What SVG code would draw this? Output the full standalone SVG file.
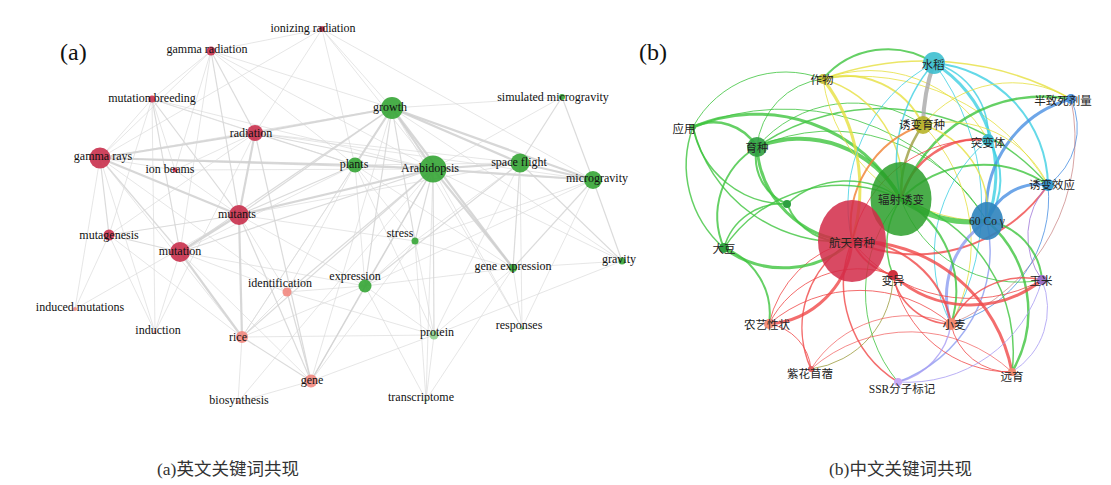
<svg xmlns="http://www.w3.org/2000/svg" width="1111" height="485" viewBox="0 0 1111 485">
<style>
.la{font-family:"Liberation Serif",serif;font-size:12px;fill:#111;text-anchor:middle}
.lb{font-family:"Liberation Serif","Noto Sans CJK SC",serif;font-size:11.5px;fill:#222;text-anchor:middle}
.pn{font-family:"Liberation Serif",serif;font-size:24px;fill:#111}
.cap{font-family:"Liberation Serif","Noto Sans CJK SC",serif;font-size:17.5px;fill:#333}
.t{stroke:#cdcdcd;stroke-width:2.2;stroke-opacity:.8}
.m{stroke:#d2d2d2;stroke-width:1.2;stroke-opacity:.8}
.n{stroke:#d8d8d8;stroke-width:.8;stroke-opacity:.8}
#edges-b path{fill:none;stroke-opacity:.8}
.G{stroke:#3ec43e}.R{stroke:#f04848}.Y{stroke:#e6e040}.T{stroke:#3fd0e2}.B{stroke:#4a90e2}
.L{stroke:#a99cf2}.P{stroke:#a078d8}.Gr{stroke:#a8a8a8}.O{stroke:#9c9c40}.Or{stroke:#f08030}.Br{stroke:#c07070}.LB{stroke:#8c9cf0}
.nr{fill:#c9304c;fill-opacity:.9}.ns{fill:#f28880;fill-opacity:.9}.ng{fill:#35a535;fill-opacity:.9}.nl{fill:#8fd18f;fill-opacity:.9}
</style>
<g id="connectors">
<g id="edges-a">
<line class="t" x1="392" y1="108" x2="433" y2="169"/>
<line class="t" x1="392" y1="108" x2="520" y2="163"/>
<line class="t" x1="392" y1="108" x2="593" y2="180"/>
<line class="t" x1="433" y1="169" x2="520" y2="163"/>
<line class="t" x1="433" y1="169" x2="593" y2="180"/>
<line class="t" x1="520" y1="163" x2="593" y2="180"/>
<line class="t" x1="355" y1="165" x2="433" y2="169"/>
<line class="t" x1="392" y1="108" x2="355" y2="165"/>
<line class="t" x1="100" y1="158" x2="239" y2="215"/>
<line class="t" x1="100" y1="158" x2="255" y2="133"/>
<line class="t" x1="255" y1="133" x2="392" y2="108"/>
<line class="t" x1="239" y1="215" x2="433" y2="169"/>
<line class="t" x1="100" y1="158" x2="355" y2="165"/>
<line class="t" x1="239" y1="215" x2="180" y2="252"/>
<line class="t" x1="392" y1="108" x2="513" y2="268"/>
<line class="t" x1="433" y1="169" x2="513" y2="268"/>
<line class="t" x1="180" y1="252" x2="242" y2="337"/>
<line class="t" x1="239" y1="215" x2="242" y2="337"/>
<line class="t" x1="255" y1="133" x2="239" y2="215"/>
<line class="m" x1="100" y1="158" x2="180" y2="252"/>
<line class="m" x1="100" y1="158" x2="109" y2="235"/>
<line class="m" x1="152" y1="99" x2="239" y2="215"/>
<line class="m" x1="152" y1="99" x2="180" y2="252"/>
<line class="m" x1="211" y1="51" x2="255" y2="133"/>
<line class="m" x1="211" y1="51" x2="239" y2="215"/>
<line class="m" x1="255" y1="133" x2="433" y2="169"/>
<line class="m" x1="255" y1="133" x2="355" y2="165"/>
<line class="m" x1="239" y1="215" x2="355" y2="165"/>
<line class="m" x1="180" y1="252" x2="433" y2="169"/>
<line class="m" x1="180" y1="252" x2="392" y2="108"/>
<line class="m" x1="109" y1="235" x2="239" y2="215"/>
<line class="m" x1="109" y1="235" x2="180" y2="252"/>
<line class="m" x1="365" y1="286" x2="433" y2="169"/>
<line class="m" x1="365" y1="286" x2="392" y2="108"/>
<line class="m" x1="365" y1="286" x2="520" y2="163"/>
<line class="m" x1="365" y1="286" x2="311" y2="381"/>
<line class="m" x1="311" y1="381" x2="433" y2="169"/>
<line class="m" x1="242" y1="337" x2="433" y2="169"/>
<line class="m" x1="242" y1="337" x2="311" y2="381"/>
<line class="m" x1="415" y1="241" x2="433" y2="169"/>
<line class="m" x1="415" y1="241" x2="392" y2="108"/>
<line class="m" x1="513" y1="268" x2="520" y2="163"/>
<line class="m" x1="513" y1="268" x2="593" y2="180"/>
<line class="m" x1="622" y1="261" x2="593" y2="180"/>
<line class="m" x1="622" y1="261" x2="520" y2="163"/>
<line class="m" x1="562" y1="97" x2="593" y2="180"/>
<line class="m" x1="562" y1="97" x2="520" y2="163"/>
<line class="m" x1="434" y1="335" x2="433" y2="169"/>
<line class="m" x1="311" y1="381" x2="239" y2="215"/>
<line class="m" x1="287" y1="292" x2="433" y2="169"/>
<line class="m" x1="287" y1="292" x2="311" y2="381"/>
<line class="m" x1="311" y1="381" x2="255" y2="133"/>
<line class="m" x1="239" y1="215" x2="392" y2="108"/>
<line class="m" x1="100" y1="158" x2="433" y2="169"/>
<line class="n" x1="322" y1="29" x2="211" y2="51"/>
<line class="n" x1="322" y1="29" x2="392" y2="108"/>
<line class="n" x1="322" y1="29" x2="355" y2="165"/>
<line class="n" x1="322" y1="29" x2="255" y2="133"/>
<line class="n" x1="322" y1="29" x2="593" y2="180"/>
<line class="n" x1="322" y1="29" x2="433" y2="169"/>
<line class="n" x1="322" y1="29" x2="100" y2="158"/>
<line class="n" x1="211" y1="51" x2="152" y2="99"/>
<line class="n" x1="211" y1="51" x2="100" y2="158"/>
<line class="n" x1="211" y1="51" x2="392" y2="108"/>
<line class="n" x1="211" y1="51" x2="355" y2="165"/>
<line class="n" x1="211" y1="51" x2="433" y2="169"/>
<line class="n" x1="211" y1="51" x2="180" y2="252"/>
<line class="n" x1="211" y1="51" x2="175" y2="170"/>
<line class="n" x1="152" y1="99" x2="100" y2="158"/>
<line class="n" x1="152" y1="99" x2="175" y2="170"/>
<line class="n" x1="152" y1="99" x2="255" y2="133"/>
<line class="n" x1="152" y1="99" x2="109" y2="235"/>
<line class="n" x1="152" y1="99" x2="155" y2="332"/>
<line class="n" x1="152" y1="99" x2="355" y2="165"/>
<line class="n" x1="152" y1="99" x2="433" y2="169"/>
<line class="n" x1="100" y1="158" x2="175" y2="170"/>
<line class="n" x1="100" y1="158" x2="75" y2="309"/>
<line class="n" x1="100" y1="158" x2="155" y2="332"/>
<line class="n" x1="100" y1="158" x2="242" y2="337"/>
<line class="n" x1="100" y1="158" x2="392" y2="108"/>
<line class="n" x1="100" y1="158" x2="287" y2="292"/>
<line class="n" x1="175" y1="170" x2="239" y2="215"/>
<line class="n" x1="175" y1="170" x2="255" y2="133"/>
<line class="n" x1="175" y1="170" x2="433" y2="169"/>
<line class="n" x1="109" y1="235" x2="75" y2="309"/>
<line class="n" x1="109" y1="235" x2="155" y2="332"/>
<line class="n" x1="109" y1="235" x2="242" y2="337"/>
<line class="n" x1="109" y1="235" x2="255" y2="133"/>
<line class="n" x1="180" y1="252" x2="155" y2="332"/>
<line class="n" x1="180" y1="252" x2="287" y2="292"/>
<line class="n" x1="180" y1="252" x2="311" y2="381"/>
<line class="n" x1="180" y1="252" x2="365" y2="286"/>
<line class="n" x1="180" y1="252" x2="355" y2="165"/>
<line class="n" x1="239" y1="215" x2="287" y2="292"/>
<line class="n" x1="239" y1="215" x2="365" y2="286"/>
<line class="n" x1="239" y1="215" x2="520" y2="163"/>
<line class="n" x1="239" y1="215" x2="415" y2="241"/>
<line class="n" x1="242" y1="337" x2="238" y2="402"/>
<line class="n" x1="242" y1="337" x2="287" y2="292"/>
<line class="n" x1="242" y1="337" x2="434" y2="335"/>
<line class="n" x1="242" y1="337" x2="392" y2="108"/>
<line class="n" x1="242" y1="337" x2="365" y2="286"/>
<line class="n" x1="242" y1="337" x2="355" y2="165"/>
<line class="n" x1="311" y1="381" x2="238" y2="402"/>
<line class="n" x1="311" y1="381" x2="434" y2="335"/>
<line class="n" x1="311" y1="381" x2="415" y2="241"/>
<line class="n" x1="311" y1="381" x2="392" y2="108"/>
<line class="n" x1="287" y1="292" x2="365" y2="286"/>
<line class="n" x1="287" y1="292" x2="355" y2="165"/>
<line class="n" x1="287" y1="292" x2="434" y2="335"/>
<line class="n" x1="365" y1="286" x2="355" y2="165"/>
<line class="n" x1="365" y1="286" x2="434" y2="335"/>
<line class="n" x1="365" y1="286" x2="415" y2="241"/>
<line class="n" x1="365" y1="286" x2="593" y2="180"/>
<line class="n" x1="365" y1="286" x2="513" y2="268"/>
<line class="n" x1="365" y1="286" x2="426" y2="400"/>
<line class="n" x1="415" y1="241" x2="355" y2="165"/>
<line class="n" x1="415" y1="241" x2="520" y2="163"/>
<line class="n" x1="415" y1="241" x2="593" y2="180"/>
<line class="n" x1="415" y1="241" x2="434" y2="335"/>
<line class="n" x1="415" y1="241" x2="513" y2="268"/>
<line class="n" x1="434" y1="335" x2="355" y2="165"/>
<line class="n" x1="434" y1="335" x2="513" y2="268"/>
<line class="n" x1="434" y1="335" x2="426" y2="400"/>
<line class="n" x1="434" y1="335" x2="622" y2="261"/>
<line class="n" x1="434" y1="335" x2="520" y2="163"/>
<line class="n" x1="426" y1="400" x2="433" y2="169"/>
<line class="n" x1="426" y1="400" x2="513" y2="268"/>
<line class="n" x1="426" y1="400" x2="415" y2="241"/>
<line class="n" x1="522" y1="328" x2="433" y2="169"/>
<line class="n" x1="522" y1="328" x2="520" y2="163"/>
<line class="n" x1="522" y1="328" x2="392" y2="108"/>
<line class="n" x1="522" y1="328" x2="513" y2="268"/>
<line class="n" x1="522" y1="328" x2="593" y2="180"/>
<line class="n" x1="513" y1="268" x2="622" y2="261"/>
<line class="n" x1="622" y1="261" x2="433" y2="169"/>
<line class="n" x1="622" y1="261" x2="392" y2="108"/>
<line class="n" x1="562" y1="97" x2="392" y2="108"/>
<line class="n" x1="562" y1="97" x2="433" y2="169"/>
<line class="n" x1="513" y1="268" x2="355" y2="165"/>
<line class="n" x1="238" y1="402" x2="433" y2="169"/>
<line class="n" x1="155" y1="332" x2="255" y2="133"/>
<line class="n" x1="75" y1="309" x2="239" y2="215"/>
<line class="n" x1="355" y1="165" x2="520" y2="163"/>
<line class="n" x1="355" y1="165" x2="593" y2="180"/>
<line class="n" x1="255" y1="133" x2="520" y2="163"/>
<line class="n" x1="255" y1="133" x2="593" y2="180"/>
</g>
<g id="edges-b">
<path class="G" stroke-width="1" d="M693,127 A105,105 0 0 1 823,79"/>
<path class="G" stroke-width="3" d="M693,127 A165,165 0 0 1 901,199"/>
<path class="G" stroke-width="2.5" d="M693,127 A50,50 0 0 1 757,147"/>
<path class="G" stroke-width="1.5" d="M693,127 A110,110 0 0 0 724,248"/>
<path class="G" stroke-width="1.5" d="M693,127 A150,150 0 0 0 852,241"/>
<path class="G" stroke-width="1" d="M693,127 A240,240 0 0 1 987,221"/>
<path class="G" stroke-width="1.5" d="M693,127 A95,95 0 0 0 787,204"/>
<path class="G" stroke-width="4" d="M757,147 A115,115 0 0 1 901,199"/>
<path class="G" stroke-width="3" d="M757,147 A100,100 0 0 0 852,241"/>
<path class="G" stroke-width="2" d="M757,147 A80,80 0 0 0 724,248"/>
<path class="G" stroke-width="2" d="M757,147 A50,50 0 0 0 787,204"/>
<path class="G" stroke-width="1" d="M757,147 A75,75 0 0 1 823,79"/>
<path class="G" stroke-width="1.5" d="M757,147 A220,220 0 0 1 1048,185"/>
<path class="G" stroke-width="1" d="M757,147 A180,180 0 0 1 987,221"/>
<path class="G" stroke-width="1" d="M757,147 A125,125 0 0 1 923,125"/>
<path class="G" stroke-width="2" d="M823,79 A85,85 0 0 1 934,63"/>
<path class="Y" stroke-width="1.5" d="M823,79 A300,300 0 0 1 1071,99"/>
<path class="Y" stroke-width="3" d="M823,79 A180,180 0 0 1 852,241"/>
<path class="Y" stroke-width="1.5" d="M823,79 A110,110 0 0 1 901,199"/>
<path class="Y" stroke-width="2" d="M823,79 A85,85 0 0 1 923,125"/>
<path class="Y" stroke-width="1" d="M823,79 A135,135 0 0 1 988,140"/>
<path class="Y" stroke-width="1" d="M823,79 A220,220 0 0 1 1048,185"/>
<path class="Y" stroke-width="1" d="M823,79 A165,165 0 0 0 987,221"/>
<path class="T" stroke-width="2" d="M934,63 A125,125 0 0 1 1048,185"/>
<path class="T" stroke-width="3" d="M934,63 A130,130 0 0 1 987,221"/>
<path class="Gr" stroke-width="4" d="M934,63 A200,200 0 0 0 923,125"/>
<path class="T" stroke-width="1.5" d="M934,63 A75,75 0 0 1 988,140"/>
<path class="T" stroke-width="1.5" d="M934,63 A150,150 0 0 0 901,199"/>
<path class="T" stroke-width="1" d="M934,63 A160,160 0 0 0 852,241"/>
<path class="T" stroke-width="1" d="M934,63 A240,240 0 0 1 951,324"/>
<path class="B" stroke-width="3" d="M1071,99 A115,115 0 0 0 987,221"/>
<path class="G" stroke-width="2.5" d="M1071,99 A150,150 0 0 0 901,199"/>
<path class="B" stroke-width="1" d="M1071,99 A70,70 0 0 1 1048,185"/>
<path class="Br" stroke-width="0.8" d="M1071,99 A200,200 0 0 1 951,324"/>
<path class="O" stroke-width="2.5" d="M923,125 A120,120 0 0 0 901,199"/>
<path class="Or" stroke-width="2" d="M923,125 A105,105 0 0 0 852,241"/>
<path class="Y" stroke-width="1.5" d="M923,125 A90,90 0 0 1 987,221"/>
<path class="Y" stroke-width="1" d="M923,125 A170,170 0 0 1 951,324"/>
<path class="Y" stroke-width="1" d="M923,125 A110,110 0 0 1 1048,185"/>
<path class="Y" stroke-width="1" d="M923,125 A115,115 0 0 1 1071,99"/>
<path class="R" stroke-width="2.5" d="M988,140 A80,80 0 0 0 901,199"/>
<path class="T" stroke-width="2" d="M988,140 A70,70 0 0 1 987,221"/>
<path class="R" stroke-width="1" d="M988,140 A130,130 0 0 0 852,241"/>
<path class="T" stroke-width="1" d="M988,140 A150,150 0 0 0 951,324"/>
<path class="G" stroke-width="2" d="M1048,185 A115,115 0 0 0 901,199"/>
<path class="B" stroke-width="3" d="M1048,185 A55,55 0 0 0 987,221"/>
<path class="R" stroke-width="2" d="M1048,185 A160,160 0 0 1 852,241"/>
<path class="B" stroke-width="1" d="M1048,185 A130,130 0 0 1 951,324"/>
<path class="P" stroke-width="1" d="M1048,185 A75,75 0 0 0 1042,280"/>
<path class="G" stroke-width="5" d="M987,221 A120,120 0 0 1 901,199"/>
<path class="LB" stroke-width="3" d="M987,221 A90,90 0 0 0 951,324"/>
<path class="G" stroke-width="2" d="M987,221 A65,65 0 0 1 1042,280"/>
<path class="LB" stroke-width="1.5" d="M987,221 A140,140 0 0 1 898,382"/>
<path class="G" stroke-width="2.5" d="M987,221 A120,120 0 0 1 1012,372"/>
<path class="R" stroke-width="2" d="M852,241 A60,60 0 0 0 893,275"/>
<path class="R" stroke-width="3" d="M852,241 A90,90 0 0 1 769,324"/>
<path class="R" stroke-width="1" d="M852,241 A110,110 0 0 0 769,324"/>
<path class="R" stroke-width="1.5" d="M852,241 A100,100 0 0 0 811,369"/>
<path class="R" stroke-width="2" d="M852,241 A100,100 0 0 1 951,324"/>
<path class="R" stroke-width="3" d="M852,241 A160,160 0 0 1 1012,372"/>
<path class="R" stroke-width="1.5" d="M852,241 A115,115 0 0 0 898,382"/>
<path class="R" stroke-width="1" d="M852,241 A150,150 0 0 0 1042,280"/>
<path class="G" stroke-width="3" d="M852,241 A100,100 0 0 1 724,248"/>
<path class="G" stroke-width="1.5" d="M901,199 A80,80 0 0 0 893,275"/>
<path class="G" stroke-width="2" d="M901,199 A105,105 0 0 1 951,324"/>
<path class="G" stroke-width="1.5" d="M901,199 A160,160 0 0 1 1012,372"/>
<path class="G" stroke-width="1" d="M901,199 A140,140 0 0 0 898,382"/>
<path class="G" stroke-width="1" d="M901,199 A125,125 0 0 0 1042,280"/>
<path class="G" stroke-width="1.5" d="M901,199 A140,140 0 0 0 724,248"/>
<path class="G" stroke-width="1.5" d="M901,199 A90,90 0 0 0 787,204"/>
<path class="G" stroke-width="2" d="M787,204 A60,60 0 0 0 852,241"/>
<path class="G" stroke-width="1.5" d="M724,248 A60,60 0 0 1 787,204"/>
<path class="G" stroke-width="2" d="M724,248 A70,70 0 0 1 769,324"/>
<path class="R" stroke-width="1" d="M769,324 A50,50 0 0 1 811,369"/>
<path class="R" stroke-width="1" d="M769,324 A100,100 0 0 1 893,275"/>
<path class="R" stroke-width="1" d="M769,324 A140,140 0 0 1 951,324"/>
<path class="O" stroke-width="1" d="M811,369 A95,95 0 0 0 893,275"/>
<path class="R" stroke-width="0.8" d="M811,369 A115,115 0 0 1 951,324"/>
<path class="R" stroke-width="0.8" d="M811,369 A150,150 0 0 1 1012,372"/>
<path class="R" stroke-width="1.5" d="M893,275 A60,60 0 0 0 951,324"/>
<path class="R" stroke-width="3" d="M893,275 A115,115 0 0 0 1042,280"/>
<path class="R" stroke-width="1" d="M893,275 A120,120 0 0 0 1012,372"/>
<path class="R" stroke-width="1" d="M951,324 A60,60 0 0 0 1012,372"/>
<path class="R" stroke-width="1.5" d="M951,324 A80,80 0 0 1 1042,280"/>
<path class="L" stroke-width="1.5" d="M898,382 A70,70 0 0 0 951,324"/>
<path class="L" stroke-width="1" d="M898,382 A140,140 0 0 0 1042,280"/>
<path class="L" stroke-width="1" d="M1012,372 A75,75 0 0 0 1042,280"/>
</g>
</g>
<g id="nodes-a">
<g id="n-ionizing-radiation"><circle class="nr" cx="322" cy="29" r="3"/><text class="la" x="313" y="32">ionizing radiation</text></g>
<g id="n-gamma-radiation"><circle class="nr" cx="211" cy="51" r="4.5"/><text class="la" x="207" y="53">gamma radiation</text></g>
<g id="n-mutation-breeding"><circle class="nr" cx="152" cy="99" r="3.5"/><text class="la" x="152" y="102">mutation breeding</text></g>
<g id="n-radiation"><circle class="nr" cx="255" cy="133" r="8"/><text class="la" x="251" y="137">radiation</text></g>
<g id="n-gamma-rays"><circle class="nr" cx="100" cy="158" r="10.5"/><text class="la" x="103" y="160">gamma rays</text></g>
<g id="n-ion-beams"><circle class="nr" cx="175" cy="170" r="2.5"/><text class="la" x="170" y="173">ion beams</text></g>
<g id="n-growth"><circle class="ng" cx="392" cy="108" r="11"/><text class="la" x="390" y="111">growth</text></g>
<g id="n-simulated-microgravity"><circle class="ng" cx="562" cy="97" r="3"/><text class="la" x="553" y="101">simulated microgravity</text></g>
<g id="n-plants"><circle class="ng" cx="355" cy="165" r="7.5"/><text class="la" x="354" y="168">plants</text></g>
<g id="n-arabidopsis"><circle class="ng" cx="433" cy="169" r="13.5"/><text class="la" x="430" y="172">Arabidopsis</text></g>
<g id="n-space-flight"><circle class="ng" cx="520" cy="163" r="9.5"/><text class="la" x="519" y="166">space flight</text></g>
<g id="n-microgravity"><circle class="ng" cx="593" cy="180" r="9"/><text class="la" x="597" y="182">microgravity</text></g>
<g id="n-mutants"><circle class="nr" cx="239" cy="215" r="10"/><text class="la" x="237" y="218">mutants</text></g>
<g id="n-mutagenesis"><circle class="nr" cx="109" cy="235" r="5.5"/><text class="la" x="109" y="239">mutagenesis</text></g>
<g id="n-mutation"><circle class="nr" cx="180" cy="252" r="10"/><text class="la" x="180" y="255">mutation</text></g>
<g id="n-identification"><circle class="ns" cx="287" cy="292" r="4.5"/><text class="la" x="280" y="287">identification</text></g>
<g id="n-induced-mutations"><circle class="ns" cx="75" cy="309" r="2"/><text class="la" x="80" y="311">induced mutations</text></g>
<g id="n-induction"><circle class="ns" cx="155" cy="332" r="1.5"/><text class="la" x="158" y="334">induction</text></g>
<g id="n-rice"><circle class="ns" cx="242" cy="337" r="6"/><text class="la" x="238" y="341">rice</text></g>
<g id="n-gene"><circle class="ns" cx="311" cy="381" r="6.5"/><text class="la" x="312" y="384">gene</text></g>
<g id="n-biosynthesis"><circle class="ns" cx="238" cy="402" r="1.5"/><text class="la" x="239" y="404">biosynthesis</text></g>
<g id="n-stress"><circle class="ng" cx="415" cy="241" r="3.5"/><text class="la" x="400" y="237">stress</text></g>
<g id="n-expression"><circle class="ng" cx="365" cy="286" r="6.5"/><text class="la" x="355" y="280">expression</text></g>
<g id="n-gene-expression"><circle class="ng" cx="513" cy="268" r="4"/><text class="la" x="513" y="270">gene expression</text></g>
<g id="n-gravity"><circle class="ng" cx="622" cy="261" r="3.5"/><text class="la" x="619" y="263">gravity</text></g>
<g id="n-protein"><circle class="nl" cx="434" cy="335" r="4.5"/><text class="la" x="437" y="336">protein</text></g>
<g id="n-responses"><circle class="nl" cx="522" cy="328" r="2"/><text class="la" x="519" y="329">responses</text></g>
<g id="n-transcriptome"><circle class="nl" cx="426" cy="400" r="1.5"/><text class="la" x="421" y="401">transcriptome</text></g>
</g>
<g id="nodes-b">
<g id="n-shuidao"><circle cx="934" cy="63" r="11" fill="#3dbfcf" fill-opacity=".9"/><text class="lb" x="933" y="69">水稻</text></g>
<g id="n-zuowu"><circle cx="823" cy="79" r="5" fill="#c8c030" fill-opacity=".9"/><text class="lb" x="822" y="84">作物</text></g>
<g id="n-yingyong"><circle cx="693" cy="127" r="3" fill="#4cbb4c"/><text class="lb" x="684" y="133">应用</text></g>
<g id="n-yuzhong"><circle cx="757" cy="147" r="10" fill="#2fa040" fill-opacity=".9"/><text class="lb" x="757" y="152">育种</text></g>
<g id="n-small"><circle cx="787" cy="204" r="4" fill="#2fa040"/></g>
<g id="n-banzhisi"><circle cx="1071" cy="99" r="5" fill="#4f90d8"/><text class="lb" x="1063" y="105">半致死剂量</text></g>
<g id="n-youbianyuzhong"><circle cx="923" cy="125" r="9" fill="#b8b428" fill-opacity=".9"/><text class="lb" x="922" y="129">诱变育种</text></g>
<g id="n-tubianti"><circle cx="988" cy="140" r="6" fill="#3cb8cc"/><text class="lb" x="988" y="147">突变体</text></g>
<g id="n-youbianxiaoying"><circle cx="1048" cy="185" r="6" fill="#3a9bd0"/><text class="lb" x="1052" y="189">诱变效应</text></g>
<g id="n-fushe"><ellipse cx="901" cy="199" rx="30.5" ry="37" fill="#2a9f2a" fill-opacity=".85"/><text class="lb" x="901" y="204">辐射诱变</text></g>
<g id="n-hangtian"><ellipse cx="852" cy="241" rx="34" ry="41" fill="#d22a48" fill-opacity=".85"/><text class="lb" x="852" y="247">航天育种</text></g>
<g id="n-co60"><ellipse cx="987" cy="221" rx="16" ry="19" fill="#2d83bd" fill-opacity=".9"/><text class="lb" x="987" y="225">60 Co γ</text></g>
<g id="n-bianyi"><circle cx="893" cy="275" r="5" fill="#d0303c"/><text class="lb" x="893" y="285">变异</text></g>
<g id="n-yumi"><circle cx="1042" cy="280" r="5" fill="#9a70c8"/><text class="lb" x="1041" y="285">玉米</text></g>
<g id="n-xiaomai"><circle cx="951" cy="324" r="6" fill="#f28a70"/><text class="lb" x="954" y="329">小麦</text></g>
<g id="n-yuanyu"><circle cx="1012" cy="372" r="4" fill="#f08a70"/><text class="lb" x="1012" y="381">远育</text></g>
<g id="n-ssr"><circle cx="898" cy="382" r="4" fill="#c9aaf5"/><text class="lb" x="902" y="393">SSR分子标记</text></g>
<g id="n-dadou"><circle cx="724" cy="248" r="5" fill="#2fa040"/><text class="lb" x="724" y="253">大豆</text></g>
<g id="n-nongyi"><circle cx="769" cy="324" r="5" fill="#f4907a"/><text class="lb" x="767" y="329">农艺性状</text></g>
<g id="n-zihua"><circle cx="811" cy="369" r="3" fill="#e06060"/><text class="lb" x="810" y="378">紫花苜蓿</text></g>
</g>
<text class="pn" x="60" y="60">(a)</text>
<text class="pn" x="639" y="60">(b)</text>
<text class="cap" x="157" y="475">(a)英文关键词共现</text>
<text class="cap" x="829" y="475">(b)中文关键词共现</text>
</svg>
